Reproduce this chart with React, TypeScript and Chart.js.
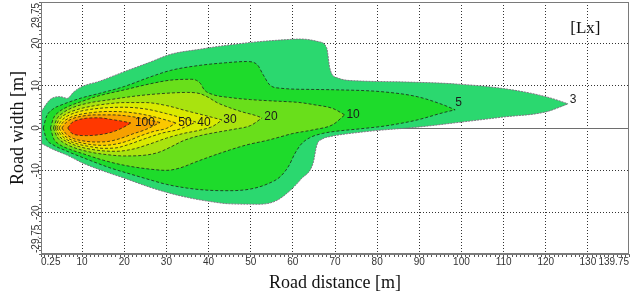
import React, { useEffect, useRef } from 'react';
import { Chart, registerables } from 'chart.js';

Chart.register(...registerables);

// ---- contour boundaries (x = road distance [m], y = road width [m]) ----
const lx3Upper = [[0.25,3.8],[2.4,6.7],[4.8,7.4],[6.5,7.0],[8,8.5],[10,9.8],[14,11],[20,13.3],[26,15.5],[31,17.4],[38,18.6],[44,19.5],[50,20.2],[56,20.7],[62,21],[66,20.4],[68,19],[68.8,14],[70.4,11.9],[76,11.1],[85,10.9],[95,10.6],[100,10.3],[105,9.9],[110,9.3],[115,8.5],[120,7.4],[123,6.5],[125.3,5.7]];
const lx3Lower = [[0.25,-3.6],[3,-5],[6.4,-6.4],[10.2,-8.3],[16.6,-10.7],[20.2,-11.9],[26.1,-14],[30.1,-15.2],[35,-16.4],[40,-17.3],[45,-17.9],[52,-18],[56,-17.2],[59.3,-14.8],[62,-12],[64.8,-8.3],[65.7,-4],[67,-2.6],[69,-2],[76,-1],[81,-0.5],[89.5,0.2],[100,1.4],[110,2.6],[120,3.8],[125.3,5.7]];

const lx5Upper = [[0.8,0],[1.5,2.6],[3,4.4],[5.5,5.6],[8,6.5],[10.2,7.2],[14.2,8.2],[20,9.8],[26,12],[31,13.6],[38,14.8],[44,15.4],[49,15.7],[51.5,15],[53,12.5],[54.5,10.2],[57,9.4],[65,9.1],[71,9],[80.7,8.6],[89.5,7.4],[95.6,5.5],[98.5,4.3]];
const lx5Lower = [[0.8,0],[1.5,-2.5],[3,-3.9],[6,-5.3],[10.2,-7.0],[16.6,-9.4],[20.2,-10.5],[26,-12.2],[30,-13.3],[35,-14.2],[40,-14.7],[45,-14.8],[50,-14.4],[54,-13.2],[57,-11.5],[59,-9],[60.5,-6],[62,-3.8],[64,-2.3],[67,-1.3],[70,-0.8],[75.9,-0.2],[82,0.5],[89.5,1.9],[95.6,3.6],[98.5,4.3]];

const lx10Upper = [[2.5,0],[3.2,2.3],[4.5,3.8],[7,5.2],[10,6.3],[14,7.6],[20,9],[26,10.4],[31,11.3],[36,11.5],[38,10.6],[39,9],[41,7.9],[45,7.2],[50,6.7],[55,6.4],[61.7,6],[65,5.5],[69.5,4.6],[72.3,3.1]];
const lx10Lower = [[2.5,0],[3.2,-2.4],[4.5,-3.8],[7,-5.0],[10,-6.0],[15,-7.6],[20,-8.8],[26,-9.7],[30,-10],[33,-9.5],[37,-8],[40,-6.9],[45,-5.2],[49,-4],[54,-2.9],[57,-2.1],[60,-1.3],[65,-0.4],[69.5,0.8],[72.3,3.1]];

const lx20Upper = [[3.2,0],[4,2.1],[5.5,3.6],[8,4.9],[12,6],[16,6.6],[20,7.2],[25,7.8],[30,8.2],[35,8.4],[38,8.1],[40,7.2],[42,6],[45,4.8],[48,3.8],[51,3],[52.7,2.4]];
const lx20Lower = [[3.2,0],[4,-2.0],[5.5,-3.4],[8,-4.6],[12,-5.7],[16,-6.3],[20,-6.6],[24,-6.5],[28,-5.8],[31,-4.5],[34,-3],[38,-1.8],[42,-1],[46,-0.3],[50,0.6],[52.7,2.4]];

const lx30Upper = [[3.6,0],[4.5,1.9],[6,3.2],[9,4.4],[12,5.1],[16,5.7],[20,6],[25,6],[30,5.3],[35,4],[39,3],[43.2,1.9]];
const lx30Lower = [[3.6,0],[4.5,-1.8],[6,-3.0],[9,-4.3],[12,-5.0],[15,-5.4],[18,-5.5],[22,-5],[26,-3.8],[30,-2.4],[34,-1.3],[38,-0.5],[41,0.4],[43.2,1.9]];

const lx40Upper = [[4,0],[5,1.6],[6.5,2.8],[9,3.8],[12,4.4],[16,4.8],[20,4.9],[25,4.5],[30,3.4],[34,2.3],[37,1.4]];
const lx40Lower = [[4,0],[5,-1.6],[6.5,-2.8],[9,-3.8],[12,-4.4],[15,-4.8],[18,-4.7],[21,-3.9],[25,-2.5],[29,-1.2],[33,-0.3],[37,1.4]];

const lx50Upper = [[4.5,0],[5.5,1.4],[7,2.4],[9,3.1],[12,3.6],[16,3.9],[20,3.8],[24,3.3],[28,2.4],[32.3,1.2]];
const lx50Lower = [[4.5,0],[5.5,-1.5],[7,-2.6],[9,-3.3],[12,-3.9],[15,-4.1],[18,-3.8],[21,-3],[24,-1.8],[27,-0.8],[30,-0.1],[32.3,1.2]];

const lx70Upper = [[5.2,0],[6.3,1.4],[8,2.3],[10,2.8],[13,3.1],[17,3.1],[21,2.8],[25,2.1],[28.5,1.3]];
const lx70Lower = [[5.2,0],[6.3,-1.5],[8,-2.5],[10,-3.0],[13,-3.3],[16,-3.2],[19,-2.5],[22,-1.4],[25,-0.4],[28.5,1.3]];

const lx100Upper = [[6.6,0],[7.5,1.2],[9,1.9],[11,2.3],[14,2.4],[17,2.0],[19.5,1.6],[21.6,1.2]];
const lx100Lower = [[6.6,0],[7.5,-1.2],[9,-1.7],[11,-1.8],[14,-1.6],[17,-1.0],[19.5,0],[21.6,1.2]];

// inner level first (drawn last / on top)
const levelUppers = [lx100Upper, lx70Upper, lx50Upper, lx40Upper, lx30Upper, lx20Upper, lx10Upper, lx5Upper, lx3Upper];
const levelLowers = [lx100Lower, lx70Lower, lx50Lower, lx40Lower, lx30Lower, lx20Lower, lx10Lower, lx5Lower, lx3Lower];
const levelColors = ['#ff3800', '#f7a100', '#fbc800', '#f3e400', '#d9ea00', '#a9e30f', '#69df1b', '#1edb2b', '#2bd86f'];

// contour labels
const contourLabels = ['100', '50', '40', '30', '20', '10', '5', '3'];
const contourLabelX = [24.9, 34.4, 38.9, 45.1, 54.8, 74.3, 99.3, 126.5];
const contourLabelY = [1.2, 1.2, 1.2, 1.9, 2.6, 3.1, 6.0, 6.6];

// axes
const xMin = 0.25;
const xMax = 139.75;
const yMin = -29.75;
const yMax = 29.75;
const xLabelValues = [0.25, 10, 20, 30, 40, 50, 60, 70, 80, 90, 100, 110, 120, 130, 139.75];
const yLabelValues = [29.75, 20, 10, 0, -10, -20, -29.75];
const xTitle = 'Road distance [m]';
const yTitle = 'Road width [m]';
const unitLabel = '[Lx]';
const unitX = 129.4;
const unitY = 23.4;

const SANS = '"Liberation Sans", Arial, sans-serif';
const SERIF = '"Liberation Serif", "Times New Roman", serif';

function minorTicks(min: number, max: number) {
  const out = [{ value: min }];
  for (let v = Math.ceil(min); v <= Math.floor(max); v++) {
    if (v !== min && v !== max) out.push({ value: v });
  }
  out.push({ value: max });
  return out;
}

const isMajor = (v: number | undefined, lim: number) =>
  v !== undefined && Math.abs(v) < lim - 0.1 && Math.abs(v % 10) < 1e-9;

const overlayPlugin = {
  id: 'overlay',
  afterDraw(chart: any) {
    const { ctx, chartArea: a } = chart;
    const xs = chart.scales.x;
    const ys = chart.scales.y;
    ctx.save();
    // frame
    ctx.strokeStyle = '#7a7a7a';
    ctx.lineWidth = 1;
    ctx.setLineDash([]);
    ctx.strokeRect(Math.round(a.left) + 0.5, Math.round(a.top) + 0.5, Math.round(a.right - a.left) - 1, Math.round(a.bottom - a.top) - 1);

    // contour labels
    ctx.font = '12px ' + SANS;
    ctx.fillStyle = '#1c1c1c';
    ctx.textAlign = 'center';
    ctx.textBaseline = 'middle';
    contourLabels.forEach((t, i) => {
      ctx.fillText(t, xs.getPixelForValue(contourLabelX[i]), ys.getPixelForValue(contourLabelY[i]));
    });

    // unit label
    ctx.font = '17px ' + SERIF;
    ctx.fillStyle = '#111';
    ctx.fillText(unitLabel, xs.getPixelForValue(unitX), ys.getPixelForValue(unitY));

    // y tick labels (rotated)
    ctx.font = '10px ' + SANS;
    ctx.fillStyle = '#333';
    yLabelValues.forEach((v, i) => {
      let py = ys.getPixelForValue(v);
      let align: CanvasTextAlign = 'center';
      if (i === 0) { align = 'right'; py += 1; }
      if (i === yLabelValues.length - 1) { align = 'left'; py -= 1; }
      ctx.save();
      ctx.translate(36, py);
      ctx.rotate(-Math.PI / 2);
      ctx.textAlign = align;
      ctx.textBaseline = 'middle';
      ctx.fillText(String(v), 0, 0);
      ctx.restore();
    });
    ctx.restore();
  },
};

export default function App() {
  const ref = useRef<HTMLCanvasElement | null>(null);

  useEffect(() => {
    if (!ref.current) return;
    const datasets: any[] = [];
    levelUppers.forEach((up, i) => {
      const outer = i === levelUppers.length - 1;
      const lineColor = outer ? 'rgba(125,105,125,0.9)' : 'rgba(28,36,28,0.8)';
      const dash = outer ? [2, 1] : [3, 2];
      datasets.push({
        data: up.map(([x, y]) => ({ x, y })),
        borderColor: lineColor,
        borderDash: dash,
        borderWidth: 1,
        pointRadius: 0,
        fill: false,
        cubicInterpolationMode: 'monotone',
      });
      datasets.push({
        data: levelLowers[i].map(([x, y]) => ({ x, y })),
        borderColor: lineColor,
        borderDash: dash,
        borderWidth: 1,
        pointRadius: 0,
        backgroundColor: levelColors[i],
        fill: '-1',
        cubicInterpolationMode: 'monotone',
      });
    });

    const chart = new Chart(ref.current, {
      type: 'line',
      data: { datasets },
      plugins: [overlayPlugin],
      options: {
        animation: false,
        responsive: false,
        devicePixelRatio: 1,
        events: [],
        layout: { padding: { top: 2, right: 11, left: 0, bottom: 0 } },
        plugins: {
          legend: { display: false },
          tooltip: { enabled: false },
          title: { display: false },
        },
        scales: {
          x: {
            type: 'linear',
            min: xMin,
            max: xMax,
            z: 1,
            afterBuildTicks: (s: any) => { s.ticks = minorTicks(xMin, xMax); },
            afterFit: (s: any) => { s.height = 42; },
            grid: {
              color: (c: any) => (isMajor(c.tick?.value, xMax) ? '#333' : 'rgba(0,0,0,0)'),
              lineWidth: 1,
              tickLength: 3,
              tickColor: '#555',
              drawTicks: true,
            },
            border: { display: true, color: '#7a7a7a', width: 1, dash: [1, 2] },
            ticks: {
              autoSkip: false,
              maxRotation: 0,
              minRotation: 0,
              align: 'inner',
              padding: 0,
              color: '#333',
              font: { family: SANS, size: 10, lineHeight: 1 },
              callback: (v: any) => (xLabelValues.includes(Number(v)) ? String(v) : ''),
            },
            title: {
              display: true,
              text: xTitle,
              color: '#111',
              font: { family: SERIF, size: 18 },
              padding: { top: 0, bottom: 2 },
            },
          },
          y: {
            type: 'linear',
            min: yMin,
            max: yMax,
            z: 1,
            afterBuildTicks: (s: any) => { s.ticks = minorTicks(yMin, yMax); },
            afterFit: (s: any) => { s.width = 41; },
            grid: {
              color: (c: any) => {
                const v = c.tick?.value;
                if (v === 0) return '#6e6e6e';
                return isMajor(v, yMax) ? '#333' : 'rgba(0,0,0,0)';
              },
              lineWidth: 1,
              tickLength: 2,
              tickColor: '#666',
              drawTicks: true,
            },
            border: {
              display: true,
              color: '#7a7a7a',
              width: 1,
              dash: (c: any) => (c.tick && c.tick.value === 0 ? [] : [1, 2]),
            },
            ticks: { display: false },
            title: {
              display: true,
              text: yTitle,
              color: '#111',
              font: { family: SERIF, size: 18 },
              padding: { top: 7, bottom: 0 },
            },
          },
        },
      } as any,
    });
    return () => chart.destroy();
  }, []);

  return (
    <div style={{ position: 'absolute', left: 0, top: 0, width: 640, height: 296, background: '#fff' }}>
      <canvas ref={ref} width={640} height={296} style={{ display: 'block', width: 640, height: 296 }} />
    </div>
  );
}
